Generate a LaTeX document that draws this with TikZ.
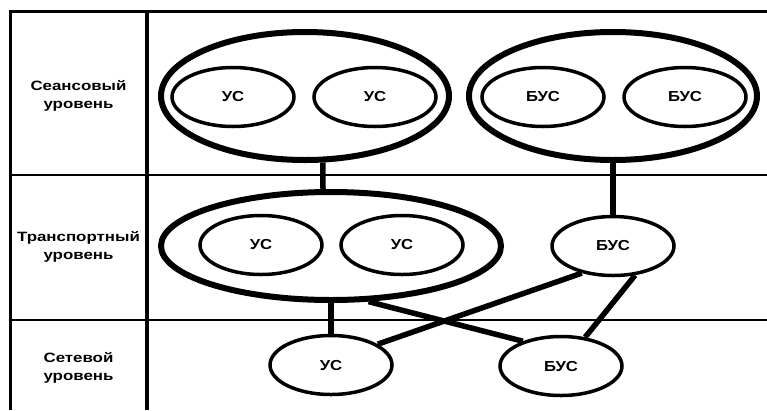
\documentclass[tikz,border=0pt]{standalone}
\usepackage{fontspec}
\setmainfont{Liberation Sans}
\usepackage{graphicx}
\usetikzlibrary{shapes.geometric}
\newcommand{\stretchtxt}[1]{\scalebox{1.15}[1]{#1}}
\newcommand{\stretchlab}[1]{\scalebox{1.25}[1]{#1}}
\begin{document}
\begin{tikzpicture}[x=1pt,y=-1pt,
  frame/.style={line width=3pt},
  divider/.style={line width=4pt},
  rowline/.style={line width=2pt},
  bigell/.style={ellipse, draw, line width=6pt, minimum width=288pt, minimum height=128pt, inner sep=0pt},
  transell/.style={ellipse, draw, line width=6pt, minimum width=340pt, minimum height=108pt, inner sep=0pt},
  smallell/.style={ellipse, draw, line width=3.5pt, minimum width=122pt, minimum height=59pt, inner sep=0pt, font=\fontsize{14.5}{16}\selectfont\bfseries},
  link/.style={line width=5.5pt},
  lab/.style={align=center, font=\fontsize{13.5}{18}\selectfont\bfseries, inner sep=0pt}]
\useasboundingbox (0,0) rectangle (767,410);
% table
\draw[frame] (10,410) -- (10,11) -- (767,11);
\draw[divider] (147,11) -- (147,410);
\draw[rowline] (10,175) -- (767,175);
\draw[rowline] (10,320) -- (767,320);
% labels
\node[lab] (l1) at (78.5,96) {\stretchlab{Сеансовый}\\\stretchlab{уровень}};
\node[lab] (l2) at (78.5,247) {\stretchlab{Транспортный}\\\stretchlab{уровень}};
\node[lab] (l3) at (78.5,368) {\stretchlab{Сетевой}\\\stretchlab{уровень}};
% session level
\node[bigell] (S1) at (305,96) {};
\node[bigell] (S2) at (613,96) {};
\node[smallell] (s11) at (233,97) {\stretchtxt{УС}};
\node[smallell] (s12) at (375,97) {\stretchtxt{УС}};
\node[smallell] (s21) at (543,97) {\stretchtxt{БУС}};
\node[smallell] (s22) at (685,97) {\stretchtxt{БУС}};
% transport level
\node[transell] (T) at (331,246) {};
\node[smallell] (t1) at (261,245) {\stretchtxt{УС}};
\node[smallell] (t2) at (402,245) {\stretchtxt{УС}};
\node[smallell] (tb) at (613,246) {\stretchtxt{БУС}};
% network level
\node[smallell] (nu) at (331,365) {\stretchtxt{УС}};
\node[smallell] (nb) at (561,366) {\stretchtxt{БУС}};
% connectors
\draw[link] (S1.-75) -- (T.98);
\draw[link] (S2.south) -- (tb.north);
\draw[link] (T.south) -- (nu.north);
\draw[link] (tb.-139) -- (nu.24);
\draw[link] (tb.-53) -- (nb.50);
\draw[link] (T.-56.5) -- (nb.147);
\end{tikzpicture}
\end{document}
